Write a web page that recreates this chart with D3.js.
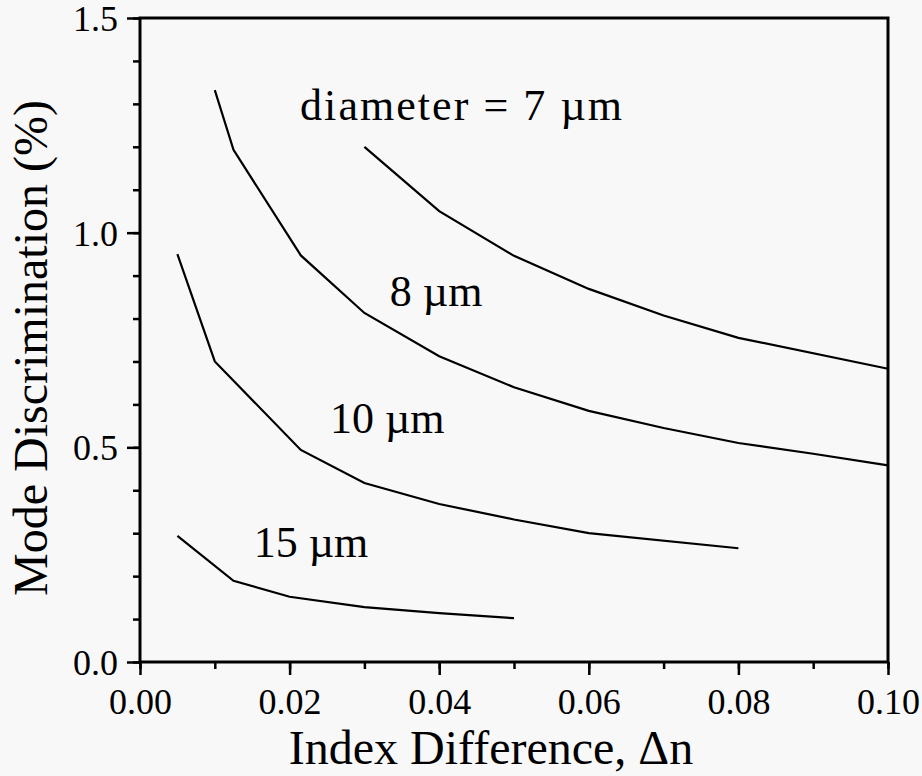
<!DOCTYPE html>
<html>
<head>
<meta charset="utf-8">
<script src="https://cdn.jsdelivr.net/npm/d3@7"></script>
<style>
  body { margin: 0; background: #f8f8f8; }
  svg { display: block; font-family: 'Liberation Serif', 'DejaVu Serif', serif; }
</style>
</head>
<body>
<script>
// data
const DN_7 = [0.03, 0.04, 0.05, 0.06, 0.07, 0.08, 0.10]
const MD_7 = [1.20, 1.05, 0.946, 0.869, 0.807, 0.755, 0.683]

const DN_8 = [0.01, 0.0125, 0.0215, 0.03, 0.04, 0.05, 0.06, 0.07, 0.08, 0.09, 0.10]
const MD_8 = [1.332, 1.193, 0.947, 0.813, 0.712, 0.640, 0.585, 0.545, 0.510, 0.485, 0.458]

const DN_10 = [0.005, 0.01, 0.0215, 0.03, 0.04, 0.05, 0.06, 0.08]
const MD_10 = [0.950, 0.700, 0.494, 0.417, 0.368, 0.332, 0.300, 0.265]

const DN_15 = [0.005, 0.0125, 0.02, 0.03, 0.04, 0.05]
const MD_15 = [0.294, 0.189, 0.152, 0.128, 0.114, 0.102]

const X_TICKS = [0, 0.02, 0.04, 0.06, 0.08, 0.10]
const Y_TICKS = [0, 0.5, 1.0, 1.5]

// curve labels, anchored in data units
const LABELS = [
  { text: 'diameter = 7 \u00b5m', x: 0.0214, y: 1.262, len: 322 },
  { text: '8 \u00b5m', x: 0.0334, y: 0.830 },
  { text: '10 \u00b5m', x: 0.0254, y: 0.533 },
  { text: '15 \u00b5m', x: 0.0152, y: 0.245 },
]

const WIDTH = 922
const HEIGHT = 776
const M = { left: 140, right: 34, top: 18, bottom: 114 }

const svg = d3.select('body').append('svg')
  .attr('width', WIDTH)
  .attr('height', HEIGHT)

const x = d3.scaleLinear().domain([0, 0.10]).range([M.left, WIDTH - M.right])
const y = d3.scaleLinear().domain([0, 1.5]).range([HEIGHT - M.bottom, M.top])

// minor ticks (no labels)
svg.append('g')
  .attr('transform', `translate(0,${y(0)})`)
  .call(d3.axisBottom(x).tickValues(d3.range(0, 0.1001, 0.01)).tickSize(7).tickFormat(''))
svg.append('g')
  .attr('transform', `translate(${x(0)},0)`)
  .call(d3.axisLeft(y).tickValues(d3.range(0, 1.501, 0.1)).tickSize(7).tickFormat(''))

// major ticks with labels
const xAxis = svg.append('g')
  .attr('transform', `translate(0,${y(0)})`)
  .call(d3.axisBottom(x).tickValues(X_TICKS).tickSize(13).tickPadding(13).tickFormat(d3.format('.2f')))
const yAxis = svg.append('g')
  .attr('transform', `translate(${x(0)},0)`)
  .call(d3.axisLeft(y).tickValues(Y_TICKS).tickSize(13).tickPadding(9).tickFormat(d3.format('.1f')))

svg.selectAll('.domain').remove()
svg.selectAll('.tick line').attr('stroke', '#000').attr('stroke-width', 2.5)
svg.selectAll('.tick text')
  .attr('fill', '#000')
  .attr('font-family', "'Liberation Serif', serif")
  .attr('font-size', 36)
yAxis.selectAll('.tick text').attr('dy', '0.35em')

// frame
const frame = svg.append('g').attr('stroke', '#000').attr('stroke-width', 3).attr('fill', 'none')
frame.append('rect')
  .attr('x', x(0)).attr('y', y(1.5))
  .attr('width', x(0.10) - x(0)).attr('height', y(0) - y(1.5))

// curves
const line = d3.line().x(d => x(d[0])).y(d => y(d[1]))
const SERIES = [[DN_7, MD_7], [DN_8, MD_8], [DN_10, MD_10], [DN_15, MD_15]]
svg.append('g').selectAll('path')
  .data(SERIES.map(([a, b]) => d3.zip(a, b)))
  .join('path')
  .attr('d', line)
  .attr('fill', 'none')
  .attr('stroke', '#000')
  .attr('stroke-width', 2.2)

// curve labels
svg.append('g').selectAll('text')
  .data(LABELS)
  .join('text')
  .attr('x', d => x(d.x))
  .attr('y', d => y(d.y))
  .attr('font-size', 44)
  .attr('textLength', d => d.len || null)
  .attr('lengthAdjust', 'spacing')
  .text(d => d.text)

// axis titles
svg.append('text')
  .attr('x', 491)
  .attr('y', 764)
  .attr('text-anchor', 'middle')
  .attr('font-size', 48)
  .text('Index Difference, \u0394n')

svg.append('text')
  .attr('transform', `translate(47,${(y(0) + y(1.5)) / 2 + 8}) rotate(-90)`)
  .attr('text-anchor', 'middle')
  .attr('font-size', 48)
  .text('Mode Discrimination (%)')
</script>
</body>
</html>
